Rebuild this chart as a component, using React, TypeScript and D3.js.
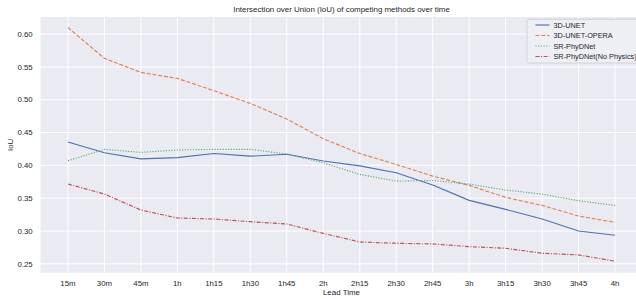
import React from "react";
import * as d3 from "d3";

const leadTimes = ["15m", "30m", "45m", "1h", "1h15", "1h30", "1h45", "2h", "2h15", "2h30", "2h45", "3h", "3h15", "3h30", "3h45", "4h"];
const unet = [0.4355, 0.4193, 0.410, 0.4117, 0.418, 0.414, 0.417, 0.4066, 0.3993, 0.3887, 0.370, 0.3467, 0.333, 0.3183, 0.300, 0.2935];
const unetOpera = [0.610, 0.563, 0.5416, 0.5325, 0.5137, 0.4944, 0.4706, 0.4406, 0.418, 0.4014, 0.3836, 0.3695, 0.3512, 0.339, 0.3228, 0.3132];
const phydnet = [0.4071, 0.4244, 0.4198, 0.4234, 0.4244, 0.4244, 0.4173, 0.404, 0.3862, 0.376, 0.377, 0.3715, 0.3624, 0.3563, 0.3461, 0.339];
const phydnetNoPhys = [0.3716, 0.3563, 0.332, 0.3198, 0.3183, 0.3142, 0.3107, 0.2964, 0.2833, 0.2813, 0.2803, 0.2762, 0.2737, 0.2661, 0.2636, 0.254];
const yTicks = [0.25, 0.30, 0.35, 0.40, 0.45, 0.50, 0.55, 0.60];

const series = [
  { name: "3D-UNET", values: unet, color: "#4C72B0", dash: "" },
  { name: "3D-UNET-OPERA", values: unetOpera, color: "#DD8452", dash: "4,1.8" },
  { name: "SR-PhyDNet", values: phydnet, color: "#55A868", dash: "1.1,1.6" },
  { name: "SR-PhyDNet(No Physics)", values: phydnetNoPhys, color: "#C44E52", dash: "4,1.5,1.1,1.5" },
];

const W = 636;
const H = 299;
const left = 40.6, right = 642.4, top = 17, bottom = 272.7;
const font = "'Liberation Sans', Arial, sans-serif";

export default function App() {
  const x = d3.scaleLinear().domain([-0.75, leadTimes.length - 1 + 0.75]).range([left, right]);
  const y = d3.scaleLinear().domain([0.2365, 0.626]).range([bottom, top]);
  const line = d3.line<number>().x((_, i) => x(i)).y(d => y(d));

  return (
    <svg width={W} height={H} style={{ position: "absolute", left: 0, top: 0, background: "#fff" }} fontFamily={font}>
      <defs>
        <clipPath id="plotClip">
          <rect x={left} y={top} width={right - left} height={bottom - top} />
        </clipPath>
      </defs>
      <rect x={left} y={top} width={right - left} height={bottom - top} fill="#EAEAF2" />
      {yTicks.map(t => (
        <g key={"y" + t}>
          <line x1={left} x2={right} y1={y(t)} y2={y(t)} stroke="#fff" strokeWidth={1} />
          <text x={left - 8} y={y(t)} dy="0.35em" textAnchor="end" fontSize={7.8} fill="#262626">{t.toFixed(2)}</text>
        </g>
      ))}
      {leadTimes.map((l, i) => (
        <g key={l}>
          <line x1={x(i)} x2={x(i)} y1={top} y2={bottom} stroke="#fff" strokeWidth={1} />
          <text x={x(i)} y={286} textAnchor="middle" fontSize={7.8} fill="#262626">{l}</text>
        </g>
      ))}
      <g clipPath="url(#plotClip)">
        {series.map(s => (
          <path key={s.name} d={line(s.values) || ""} fill="none" stroke={s.color} strokeWidth={1.15}
            strokeDasharray={s.dash || undefined} />
        ))}
      </g>
      <text x={(left + right) / 2} y={12} textAnchor="middle" fontSize={7.95} fill="#262626">
        Intersection over Union (IoU) of competing methods over time
      </text>
      <text x={(left + right) / 2} y={295} textAnchor="middle" fontSize={7.95} fill="#262626">Lead Time</text>
      <text transform={`translate(13,${(top + bottom) / 2}) rotate(-90)`} textAnchor="middle" fontSize={7.95} fill="#262626">IoU</text>
      <g>
        <rect x={527} y={19.3} width={130} height={43.7} rx={2} fill="#EAEAF2" fillOpacity={0.8} stroke="#CCCCCC" strokeWidth={0.8} />
        <rect x={527.4} y={19.7} width={129} height={42.9} rx={2} fill="#fff" fillOpacity={0.2} />
        {series.map((s, i) => {
          const ly = 25 + i * 10.5;
          return (
            <g key={"lg" + s.name}>
              <line x1={535.5} x2={549.5} y1={ly} y2={ly} stroke={s.color} strokeWidth={1.15} strokeDasharray={s.dash || undefined} />
              <text x={553.5} y={ly} dy="0.35em" fontSize={7.3} fill="#262626">{s.name}</text>
            </g>
          );
        })}
      </g>
    </svg>
  );
}
